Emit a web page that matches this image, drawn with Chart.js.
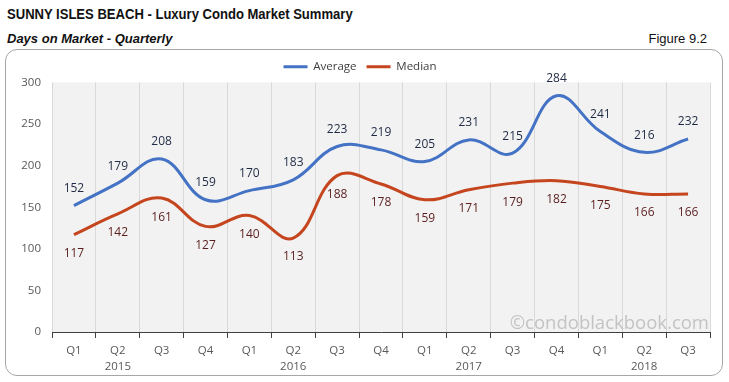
<!DOCTYPE html>
<html>
<head>
<meta charset="utf-8">
<script src="https://cdn.jsdelivr.net/npm/chart.js@4/dist/chart.umd.min.js"></script>
<style>
  html, body { margin: 0; padding: 0; background: #fff; }
  #wrap { position: relative; width: 729px; height: 382px; overflow: hidden; }
  #title { position: absolute; left: 7px; top: 6px; font: bold 14.5px "Liberation Sans", Arial, sans-serif; color: #111; white-space: nowrap; transform: scaleX(0.9); transform-origin: left top; }
  #subtitle { position: absolute; left: 7px; top: 31px; font: italic bold 13px "Liberation Sans", Arial, sans-serif; color: #111; white-space: nowrap; }
  #fig { position: absolute; right: 22px; top: 31px; font: 13px "Liberation Sans", Arial, sans-serif; color: #111; white-space: nowrap; }
  #frame { position: absolute; left: 5px; top: 49px; width: 716px; height: 325px; border: 1.5px solid #a6a6a6; border-radius: 12px; background: #fff; }
  #c { position: absolute; left: 0; top: 0; }
</style>
</head>
<body>
<div id="wrap">
  <div id="title">SUNNY ISLES BEACH - Luxury Condo Market Summary</div>
  <div id="subtitle">Days on Market - Quarterly</div>
  <div id="fig">Figure 9.2</div>
  <div id="frame"></div>
  <canvas id="c" width="729" height="382"></canvas>
</div>
<script>
const quarters = ['Q1','Q2','Q3','Q4','Q1','Q2','Q3','Q4','Q1','Q2','Q3','Q4','Q1','Q2','Q3'];
const years    = ['','2015','','','','2016','','','','2017','','','','2018',''];
const averageDays = [152,179,208,159,170,183,223,219,205,231,215,284,241,216,232];
const medianDays  = [117,142,161,127,140,113,188,178,159,171,179,182,175,166,166];
const yTicks = [0,50,100,150,200,250,300];

const labels = quarters.map((q, i) => years[i] ? [q, years[i]] : [q, '']);

const FONT = "'Open Sans', 'Noto Sans', sans-serif";

const plotBg = {
  id: 'plotBg',
  beforeDraw(chart) {
    const {ctx, chartArea: a} = chart;
    ctx.save();
    ctx.fillStyle = '#f2f2f2';
    ctx.fillRect(a.left, a.top, a.right - a.left, a.bottom - a.top);
    ctx.restore();
  }
};

const valueLabels = {
  id: 'valueLabels',
  afterDatasetsDraw(chart) {
    const ctx = chart.ctx;
    ctx.save();
    ctx.font = "12px " + FONT;
    ctx.textAlign = 'center';
    ctx.textBaseline = 'middle';
    chart.data.datasets.forEach((ds, di) => {
      const meta = chart.getDatasetMeta(di);
      meta.data.forEach((pt, i) => {
        const v = ds.data[i];
        if (di === 0) {
          ctx.fillStyle = '#1f2a44';
          ctx.fillText(String(v), pt.x, pt.y - 17);
        } else {
          ctx.fillStyle = '#5a1e1e';
          ctx.fillText(String(v), pt.x, pt.y + 19);
        }
      });
    });
    // watermark
    const a = chart.chartArea;
    ctx.font = "18.5px " + FONT;
    ctx.textAlign = 'right';
    ctx.textBaseline = 'alphabetic';
    ctx.fillStyle = 'rgba(175,175,175,0.7)';
    ctx.fillText('\u00A9condoblackbook.com', a.right - 1, a.bottom - 3);
    ctx.restore();
  }
};

new Chart(document.getElementById('c'), {
  type: 'line',
  data: {
    labels: labels,
    datasets: [
      { label: 'Average', data: averageDays, borderColor: '#4472c4', backgroundColor: '#4472c4', borderWidth: 3, tension: 0.4, pointRadius: 0, fill: false },
      { label: 'Median', data: medianDays, borderColor: '#c5461e', backgroundColor: '#c5461e', borderWidth: 3, tension: 0.4, pointRadius: 0, fill: false }
    ]
  },
  options: {
    responsive: false,
    animation: false,
    devicePixelRatio: 1,
    layout: { padding: { left: 10, right: 19, top: 51, bottom: 8 } },
    plugins: {
      legend: {
        display: true,
        position: 'top',
        labels: {
          usePointStyle: true,
          pointStyle: 'line',
          pointStyleWidth: 24,
          boxHeight: 11,
          padding: 10,
          color: '#404040',
          font: { family: FONT, size: 11.5 }
        }
      },
      tooltip: { enabled: false }
    },
    scales: {
      x: {
        type: 'category',
        offset: true,
        grid: { offset: true, color: '#d9d9d9', tickColor: '#404040', tickLength: 6, lineWidth: 1 },
        border: { color: '#404040', width: 1 },
        ticks: { autoSkip: false, maxRotation: 0, padding: 5, color: '#595959', font: { family: FONT, size: 11.5, lineHeight: 1.35 } },
        afterFit(s) { s.height = 42; }
      },
      y: {
        min: 0, max: 300,
        afterBuildTicks(s) { s.ticks = yTicks.map(v => ({ value: v })); },
        grid: { display: false, drawTicks: false },
        border: { display: false },
        ticks: { padding: 11, color: '#595959', font: { family: FONT, size: 11.5 } },
        afterFit(s) { s.width = 42; }
      }
    }
  },
  plugins: [plotBg, valueLabels]
});
</script>
</body>
</html>
